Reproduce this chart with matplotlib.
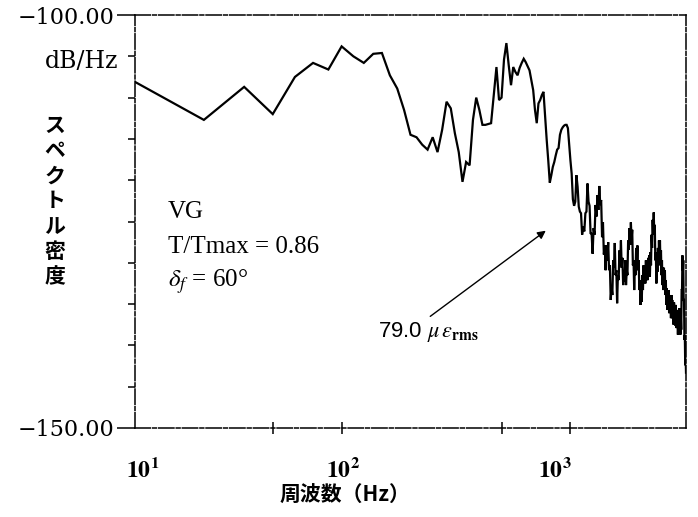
import numpy as np
import matplotlib
matplotlib.use("Agg")
import matplotlib.pyplot as plt

plt.rcParams["mathtext.fontset"] = "stix"

# Spectral line spacing and line numbers (12.5 Hz resolution, 256 lines)
delta_f = 12.5
line_no = np.arange(1, 257)
freq_hz = delta_f * line_no

# Power spectral density, dB/Hz, one value per spectral line
psd_db = [
    -108.1, -112.7, -108.7, -112.0, -107.5, -105.8, -106.6, -103.8, -105.0, -105.8,
    -104.7, -104.6, -107.3, -108.9, -111.5, -114.5, -114.8, -115.7, -116.3, -114.8,
    -116.6, -113.9, -110.5, -111.3, -114.3, -116.6, -120.2, -117.8, -118.2, -112.7,
    -110.0, -111.5, -113.3, -113.3, -113.2, -113.1, -109.7, -106.3, -110.3, -110.0,
    -105.4, -103.4, -106.1, -108.5, -106.3, -106.9, -107.3, -106.4, -105.8, -105.3,
    -105.7, -106.2, -106.7, -107.9, -109.1, -111.5, -113.1, -110.7, -110.3, -109.7,
    -109.3, -112.3, -115.1, -117.6, -120.3, -119.4, -118.4, -117.8, -117.0, -116.3,
    -116.1, -114.5, -113.9, -113.6, -113.4, -113.3, -113.3, -113.7, -115.7, -117.6,
    -119.2, -122.3, -123.1, -122.6, -119.4, -120.8, -123.2, -123.8, -124.0, -126.6,
    -125.6, -126.2, -124.0, -123.8, -120.4, -122.6, -123.1, -126.5, -126.4, -128.9,
    -125.8, -126.6, -123.0, -124.4, -121.8, -123.6, -120.7, -123.0, -122.4, -126.9,
    -125.1, -129.0, -127.9, -130.9, -127.9, -129.7, -127.5, -130.9, -130.3, -134.5,
    -132.9, -133.9, -129.7, -130.6, -127.6, -131.5, -130.9, -134.9, -131.5, -132.1,
    -128.5, -130.3, -127.3, -130.6, -129.4, -132.7, -130.9, -132.3, -129.7, -132.7,
    -130.9, -131.5, -127.3, -128.4, -125.8, -127.8, -125.1, -127.2, -126.0, -130.3,
    -129.7, -133.3, -130.3, -131.5, -128.2, -130.0, -127.9, -130.9, -129.7, -133.3,
    -132.1, -135.1, -133.3, -134.7, -131.5, -133.3, -130.3, -132.3, -130.3, -132.5,
    -129.7, -132.1, -130.1, -132.1, -129.4, -131.7, -129.1, -131.7, -128.7, -130.3,
    -126.6, -128.2, -124.8, -126.6, -123.9, -126.6, -125.4, -129.7, -128.7, -132.5,
    -129.4, -131.1, -128.2, -130.3, -127.3, -129.3, -127.3, -130.3, -128.5, -131.5,
    -129.7, -132.7, -130.6, -133.3, -130.6, -132.7, -130.9, -133.9, -132.1, -135.1,
    -133.1, -135.7, -133.5, -135.5, -133.3, -136.1, -133.9, -135.9, -133.9, -136.7,
    -133.9, -136.7, -134.5, -136.7, -134.8, -137.5, -134.8, -137.5, -135.5, -137.6,
    -135.1, -137.9, -135.7, -137.9, -136.0, -138.7, -136.0, -138.1, -135.5, -137.3,
    -135.5, -138.7, -136.6, -138.1, -133.3, -133.3, -129.1, -130.9, -129.7, -134.5,
    -134.5, -139.3, -138.8, -142.4, -141.2, -143.3,
]

y_min, y_max = -150.0, -100.0
x_min, x_max = delta_f, delta_f * 256
y_tick_labels = {-100.0: "\u2212100.00", -150.0: "\u2212150.00"}
decade_labels = [r"$\mathbf{10^{1}}$", r"$\mathbf{10^{2}}$", r"$\mathbf{10^{3}}$"]
decade_label_pos = [0.013, 0.377, 0.762]

fig = plt.figure(figsize=(6.98, 5.17), dpi=100)
ax = fig.add_axes([135 / 698, 1 - 428 / 517, 551 / 698, 413 / 517])

ax.plot(freq_hz, psd_db, color="black", lw=1.6, solid_joinstyle="miter")

ax.set_xscale("log")
ax.set_xlim(x_min, x_max)
ax.set_ylim(y_min, y_max)

# frame drawn as a broken dash-dot line
for side in ["left", "right", "top", "bottom"]:
    ax.spines[side].set_linestyle((0, (10, 1.5, 2.5, 1.5)))
    ax.spines[side].set_linewidth(1.1)

# x tick marks at 50, 100, 500, 1000 Hz
ax.xaxis.set_major_locator(matplotlib.ticker.FixedLocator([100, 1000]))
ax.xaxis.set_minor_locator(matplotlib.ticker.FixedLocator([50, 500]))
ax.xaxis.set_major_formatter(matplotlib.ticker.NullFormatter())
ax.xaxis.set_minor_formatter(matplotlib.ticker.NullFormatter())
ax.tick_params(axis="x", which="both", direction="inout", length=8, width=1.1)

# y ticks every 5 dB, labels only at the ends
ax.set_yticks([y_min, y_max])
ax.set_yticklabels([y_tick_labels[y_min], y_tick_labels[y_max]],
                   family="DejaVu Serif", fontsize=16)
ax.yaxis.set_minor_locator(matplotlib.ticker.FixedLocator(np.arange(-145, -100, 5)))
ax.tick_params(axis="y", which="major", direction="out", length=13, width=1.1, pad=2)
ax.tick_params(axis="y", which="minor", direction="out", length=5, width=1.1)

for lab, pos in zip(decade_labels, decade_label_pos):
    ax.text(pos, -0.102, lab, transform=ax.transAxes, ha="center", va="center",
            fontsize=17)

ax.text(118 / 698, 1 - 62 / 517, "dB/Hz", transform=fig.transFigure, ha="right",
        va="center", family="DejaVu Serif", fontsize=17)

ax.text(55 / 698, 1 - 201 / 517, "\n".join("スペクトル密度"), transform=fig.transFigure,
        ha="center", va="center", family="Noto Sans CJK JP", fontsize=15,
        fontweight="bold", linespacing=1.25)

ax.text(0.381, -0.162, "周波数（Hz）", transform=ax.transAxes, ha="center",
        va="center", family="Noto Sans CJK JP", fontsize=15, fontweight="bold")

serif = ["Liberation Serif", "DejaVu Serif"]
ax.text(0.06, 0.523, "VG", transform=ax.transAxes, ha="left", va="center",
        family=serif, fontsize=18)
ax.text(0.06, 0.438, "T/Tmax = 0.86", transform=ax.transAxes, ha="left",
        va="center", family=serif, fontsize=18)
ax.text(0.06, 0.3535, r"$\delta_f$ = 60°", transform=ax.transAxes, ha="left",
        va="center", family=serif, fontsize=18)

ax.annotate("", xy=(0.7496, 0.4818), xytext=(0.5318, 0.2663),
            xycoords="axes fraction", textcoords="axes fraction",
            arrowprops=dict(arrowstyle="-|>", color="black", lw=1.0,
                            mutation_scale=12))
ax.text(0.441, 0.232, r"79.0 $\mu\,\varepsilon_{\mathbf{rms}}$", transform=ax.transAxes,
        ha="left", va="center", family="Liberation Sans", fontsize=16)

fig.savefig("out.png", dpi=100)
